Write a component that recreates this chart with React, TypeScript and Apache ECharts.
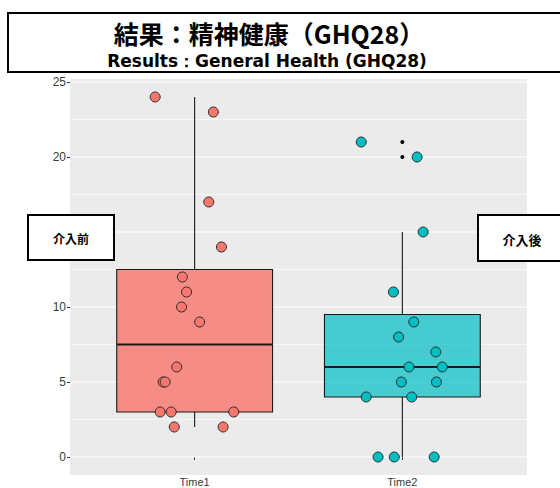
import React, { useEffect, useRef } from "react";
import * as echarts from "echarts";

const categories = ["Time1", "Time2"];
const yTicks = [0, 5, 10, 15, 20, 25];
// the "15" label sits under the 介入前 box in the reference, so it is not drawn
const yTickLabels = [0, 5, 10, 20, 25];
const yMinorTicks = [2.5, 7.5, 12.5, 17.5, 22.5];

// Values (each point of the jitter layer)
const time1Values = [24, 23, 17, 14, 12, 11, 10, 9, 6, 5, 5, 3, 3, 3, 2, 2];
const time1Jitter = [-0.19, 0.09, 0.068, 0.129, -0.059, -0.039, -0.063, 0.024, -0.086, -0.152, -0.142, -0.166, -0.113, 0.188, -0.098, 0.137];
const time2Values = [21, 20, 15, 11, 9, 8, 7, 6, 6, 5, 5, 4, 4, 0, 0, 0];
const time2Jitter = [-0.198, 0.071, 0.1, -0.043, 0.055, -0.018, 0.161, 0.032, 0.192, -0.005, 0.164, -0.174, 0.045, -0.117, -0.039, 0.153];

const fillColors = ["#F8766D", "#00BFC4"];
const boxColors = ["rgba(248,118,109,0.8)", "rgba(0,191,196,0.7)"];

function quantile(sorted: number[], p: number) {
  const h = (sorted.length - 1) * p;
  const lo = Math.floor(h);
  const hi = Math.min(lo + 1, sorted.length - 1);
  return sorted[lo] + (h - lo) * (sorted[hi] - sorted[lo]);
}

function boxStats(values: number[]) {
  const s = [...values].sort((a, b) => a - b);
  const q1 = quantile(s, 0.25);
  const med = quantile(s, 0.5);
  const q3 = quantile(s, 0.75);
  const iqr = q3 - q1;
  const lf = q1 - 1.5 * iqr;
  const hf = q3 + 1.5 * iqr;
  const inside = s.filter((v) => v >= lf && v <= hf);
  const outliers = s.filter((v) => v < lf || v > hf);
  return { q1, med, q3, lo: inside[0], hi: inside[inside.length - 1], outliers };
}

export default function App() {
  const ref = useRef<HTMLDivElement>(null);
  useEffect(() => {
    document.body.style.margin = "0";
    if (!ref.current) return;
    const chart = echarts.init(ref.current, undefined, { renderer: "svg" });
    const groups = [time1Values, time2Values];
    const jitters = [time1Jitter, time2Jitter];
    const stats = groups.map(boxStats);
    const boxData = stats.map((s, i) => [i + 1, s.q1, s.med, s.q3, s.lo, s.hi, i]);
    const outlierData: number[][] = [];
    stats.forEach((s, i) => s.outliers.forEach((v) => outlierData.push([i + 1, v])));
    const gridData = [...yTicks.map((v) => [v, 1]), ...yMinorTicks.map((v) => [v, 0])];

    const option: any = {
      animation: false,
      grid: {
        left: 70,
        right: 33,
        top: 79,
        bottom: 13,
        show: true,
        backgroundColor: "#EBEBEB",
        borderWidth: 0,
        containLabel: false,
        outerBoundsMode: "none",
      },
      xAxis: {
        type: "value",
        min: 0.4,
        max: 2.6,
        axisLine: { show: false },
        splitLine: { show: false },
        axisTick: { show: true, customValues: [1, 2], length: 3, lineStyle: { color: "#333333", width: 1 } },
        axisLabel: {
          customValues: [1, 2],
          formatter: (v: number) => categories[Math.round(v) - 1] || "",
          color: "#3A3A3A",
          fontSize: 11,
          fontFamily: "Liberation Sans",
          margin: 1,
        },
      },
      yAxis: {
        type: "value",
        min: -1.2,
        max: 25.2,
        axisLine: { show: false },
        splitLine: { show: false },
        axisTick: { show: true, customValues: yTicks, length: 3, lineStyle: { color: "#333333", width: 1 } },
        axisLabel: {
          customValues: yTickLabels,
          color: "#3A3A3A",
          fontSize: 12,
          fontFamily: "Liberation Sans",
          margin: 4,
        },
      },
      series: [
        {
          type: "custom",
          name: "grid",
          silent: true,
          z: 1,
          data: gridData,
          renderItem: (params: any, api: any) => {
            const v = api.value(0);
            const major = api.value(1) === 1;
            const p1 = api.coord([0.4, v]);
            const p2 = api.coord([2.6, v]);
            return {
              type: "line",
              shape: { x1: p1[0], y1: p1[1], x2: p2[0], y2: p2[1] },
              style: { stroke: "#FFFFFF", lineWidth: major ? 1.2 : 0.6 },
            };
          },
        },
        {
          type: "custom",
          name: "box",
          z: 2,
          data: boxData,
          renderItem: (params: any, api: any) => {
            const x = api.value(0);
            const q1 = api.value(1);
            const med = api.value(2);
            const q3 = api.value(3);
            const lo = api.value(4);
            const hi = api.value(5);
            const ci = api.value(6);
            const hw = 0.375;
            const tl = api.coord([x - hw, q3]);
            const br = api.coord([x + hw, q1]);
            const mL = api.coord([x - hw, med]);
            const mR = api.coord([x + hw, med]);
            const wTop1 = api.coord([x, q3]);
            const wTop2 = api.coord([x, hi]);
            const wBot1 = api.coord([x, q1]);
            const wBot2 = api.coord([x, lo]);
            return {
              type: "group",
              children: [
                {
                  type: "line",
                  shape: { x1: wTop1[0], y1: wTop1[1], x2: wTop2[0], y2: wTop2[1] },
                  style: { stroke: "#1A1A1A", lineWidth: 1.1 },
                },
                {
                  type: "line",
                  shape: { x1: wBot1[0], y1: wBot1[1], x2: wBot2[0], y2: wBot2[1] },
                  style: { stroke: "#1A1A1A", lineWidth: 1.1 },
                },
                {
                  type: "rect",
                  shape: { x: tl[0], y: tl[1], width: br[0] - tl[0], height: br[1] - tl[1] },
                  style: { fill: boxColors[ci], stroke: "#1A1A1A", lineWidth: 1.1 },
                },
                {
                  type: "line",
                  shape: { x1: mL[0], y1: mL[1], x2: mR[0], y2: mR[1] },
                  style: { stroke: "#1A1A1A", lineWidth: 2 },
                },
              ],
            };
          },
        },
        {
          type: "scatter",
          name: "outliers",
          z: 3,
          symbolSize: 4,
          itemStyle: { color: "#000000", opacity: 1 },
          data: outlierData,
        },
        ...groups.map((vals, gi) => ({
          type: "scatter",
          name: categories[gi],
          z: 4,
          symbolSize: 10,
          itemStyle: { color: fillColors[gi], borderColor: "#2B2B2B", borderWidth: 1, opacity: 1 },
          data: vals.map((v, i) => [gi + 1 + jitters[gi][i], v]),
        })),
      ],
      graphic: [
        {
          type: "rect",
          z: 100,
          shape: { x: 8, y: 13, width: 560, height: 59 },
          style: { fill: "#FFFFFF", stroke: "#000000", lineWidth: 2 },
        },
        {
          type: "text",
          z: 101,
          x: 269,
          y: 33,
          style: {
            text: "結果：精神健康（GHQ28）",
            fontFamily: "Noto Sans CJK JP",
            fontWeight: "bold",
            fontSize: 25,
            fill: "#000000",
            align: "center",
            verticalAlign: "middle",
          },
        },
        {
          type: "text",
          z: 101,
          x: 267,
          y: 61,
          style: {
            text: "Results：General Health (GHQ28)",
            fontFamily: "DejaVu Sans",
            fontWeight: "bold",
            fontSize: 17,
            fill: "#000000",
            align: "center",
            verticalAlign: "middle",
          },
        },
        {
          type: "rect",
          z: 100,
          shape: { x: 28, y: 215, width: 86, height: 45 },
          style: { fill: "#FFFFFF", stroke: "#000000", lineWidth: 2 },
        },
        {
          type: "text",
          z: 101,
          x: 71,
          y: 238,
          style: {
            text: "介入前",
            fontFamily: "Noto Sans CJK JP",
            fontWeight: "bold",
            fontSize: 12,
            fill: "#000000",
            align: "center",
            verticalAlign: "middle",
          },
        },
        {
          type: "rect",
          z: 100,
          shape: { x: 478, y: 215, width: 90, height: 46 },
          style: { fill: "#FFFFFF", stroke: "#000000", lineWidth: 2 },
        },
        {
          type: "text",
          z: 101,
          x: 522,
          y: 239,
          style: {
            text: "介入後",
            fontFamily: "Noto Sans CJK JP",
            fontWeight: "bold",
            fontSize: 13,
            fill: "#000000",
            align: "center",
            verticalAlign: "middle",
          },
        },
      ],
    };
    chart.setOption(option);
    return () => chart.dispose();
  }, []);
  return <div ref={ref} style={{ width: 560, height: 488 }} />;
}
